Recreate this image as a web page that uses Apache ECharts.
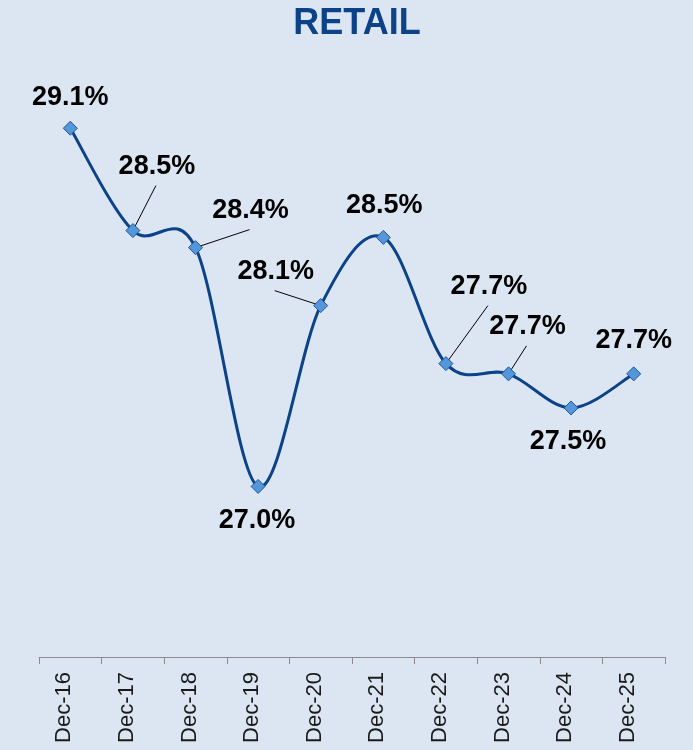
<!DOCTYPE html>
<html>
<head>
<meta charset="utf-8">
<script src="https://cdn.jsdelivr.net/npm/echarts@6/dist/echarts.min.js"></script>
<style>
    html, body { margin: 0; padding: 0; background: #dce6f2; }
    #retail_line { width: 693px; height: 750px; }
</style>
</head>
<body>
<div id="retail_line"></div>
<script>
/** 数据 **/
var categories = ['Dec-16', 'Dec-17', 'Dec-18', 'Dec-19', 'Dec-20', 'Dec-21', 'Dec-22', 'Dec-23', 'Dec-24', 'Dec-25'];
var retailValues = [29.1, 28.5, 28.4, 27.0, 28.06, 28.46, 27.72, 27.66, 27.46, 27.66];

// label centre relative to the marker centre, px
var labelOffsets = [[0, -31], [24, -64], [55, -37], [-1, 34], [-45, -34],
                    [1, -32], [43, -77], [19, -47], [-3, 34], [0, -33]];
var withLeader = [false, true, true, false, true, false, true, true, false, false];

/** 平滑曲线 + 引导线 (custom) **/
function renderCurve(params, api) {
    var i = params.dataIndex;
    var n = retailValues.length;
    function pt(j) {
        j = Math.max(0, Math.min(n - 1, j));
        return api.coord([j, retailValues[j]]);
    }
    var children = [];
    if (i < n - 1) {
        var p0 = pt(i - 1), p1 = pt(i), p2 = pt(i + 1), p3 = pt(i + 2);
        children.push({
            type: 'bezierCurve',
            shape: {
                x1: p1[0], y1: p1[1],
                cpx1: p1[0] + (p2[0] - p0[0]) / 6, cpy1: p1[1] + (p2[1] - p0[1]) / 6,
                cpx2: p2[0] - (p3[0] - p1[0]) / 6, cpy2: p2[1] - (p3[1] - p1[1]) / 6,
                x2: p2[0], y2: p2[1]
            },
            style: { stroke: '#0b4288', lineWidth: 3, fill: null }
        });
    }
    if (withLeader[i]) {
        var c = pt(i);
        var off = labelOffsets[i];
        children.push({
            type: 'line',
            shape: { x1: c[0] + off[0] - 1, y1: c[1] + off[1] + 19, x2: c[0], y2: c[1] },
            style: { stroke: '#000', lineWidth: 1 }
        });
    }
    return { type: 'group', children: children };
}

function getRetailOption() {
    var option = {
        backgroundColor: '#dce6f2',
        title: {
            text: 'RETAIL',
            left: 352,
            top: 1,
            textAlign: 'center',
            textStyle: {
                fontFamily: 'Liberation Sans, Arial, sans-serif',
                fontSize: 36,
                fontWeight: 'bold',
                color: '#0b4288'
            }
        },
        grid: { left: 39, right: 28, top: 60, bottom: 93 },
        xAxis: {
            type: 'category',
            data: categories,
            boundaryGap: true,
            axisLine: { lineStyle: { color: '#8c8c8c', width: 1 } },
            axisTick: { show: true, alignWithLabel: false, length: 7, lineStyle: { color: '#8c8c8c' } },
            axisLabel: {
                rotate: 90,
                margin: 15,
                fontFamily: 'Liberation Sans, Arial, sans-serif',
                fontSize: 22,
                lineHeight: 12,
                color: '#1a1a1a',
                formatter: function (v) { return v + '\n'; }
            }
        },
        yAxis: {
            type: 'value',
            min: 26,
            max: 29.5,
            show: false,
            splitLine: { show: false }
        },
        series: [
            {
                name: 'RetailCurve',
                type: 'custom',
                z: 1,
                silent: true,
                data: retailValues.map(function (v, i) { return [i, v]; }),
                encode: { x: 0, y: 1 },
                renderItem: renderCurve
            },
            {
                name: 'Retail',
                type: 'line',
                z: 2,
                data: retailValues,
                symbol: 'diamond',
                symbolSize: 14,
                lineStyle: { width: 0, opacity: 0 },
                itemStyle: { color: '#5596da', borderColor: '#1d5597', borderWidth: 1 },
                label: {
                    show: true,
                    position: 'top',
                    fontFamily: 'Liberation Sans, Arial, sans-serif',
                    fontSize: 27,
                    fontWeight: 'bold',
                    color: '#000',
                    formatter: function (p) { return p.value.toFixed(1) + '%'; }
                },
                labelLayout: function (params) {
                    var off = labelOffsets[params.dataIndex];
                    var r = params.rect;
                    return {
                        x: r.x + r.width / 2 + off[0],
                        y: r.y + r.height / 2 + off[1],
                        align: 'center',
                        verticalAlign: 'middle'
                    };
                }
            }
        ]
    };
    return option;
}

var myEcharts = echarts.init(document.getElementById('retail_line'));
myEcharts.setOption(getRetailOption());
</script>
</body>
</html>
